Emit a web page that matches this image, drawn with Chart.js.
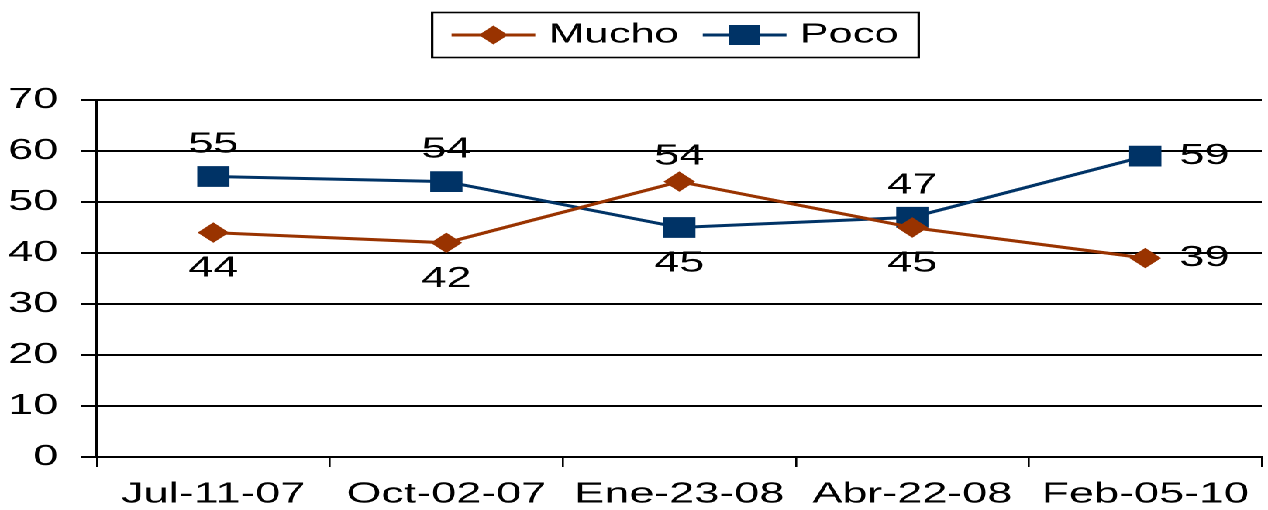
<!DOCTYPE html>
<html><head><meta charset="utf-8">
<script src="https://cdn.jsdelivr.net/npm/chart.js@4/dist/chart.umd.min.js"></script>
<style>
html,body{margin:0;padding:0;background:#fff;overflow:hidden;}
#wrap{position:absolute;left:0;top:0;width:818px;height:510px;transform:scaleX(1.55012);transform-origin:0 0;background:#fff;}
#c{display:block;}
</style></head><body>
<div id="wrap"><canvas id="c" width="818" height="510"></canvas></div>
<script>
const categories = ['Jul-11-07','Oct-02-07','Ene-23-08','Abr-22-08','Feb-05-10'];
const seriesNames = ['Mucho','Poco'];
const mucho = [44,42,54,45,39];
const poco = [55,54,45,47,59];
const yTicks = [0,10,20,30,40,50,60,70];

const FONT = '"Liberation Sans", Arial, sans-serif';
const LEG_BOX = 43;
const ZERO_PAD = () => ({ left: 0, top: 0, right: 0, bottom: 0 });

const valueLabels = {
  id:'valueLabels',
  afterDatasetsDraw(chart){
    const ctx = chart.ctx;
    ctx.save();
    ctx.font = '29px ' + FONT;
    ctx.fillStyle = '#000';
    ctx.textBaseline = 'middle';
    const n = categories.length;
    chart.data.datasets.forEach((ds, di) => {
      const meta = chart.getDatasetMeta(di);
      const other = chart.data.datasets[1-di].data;
      meta.data.forEach((pt, i) => {
        const v = ds.data[i];
        let x = pt.x, y = pt.y;
        if (i === n-1) { ctx.textAlign = 'left'; x += 22; }
        else if (v >= other[i]) { ctx.textAlign = 'center'; y -= (di === 1 ? 32 : 25); }
        else { ctx.textAlign = 'center'; y += 36; }
        ctx.fillText(String(v), x, y);
      });
    });
    ctx.restore();
  }
};

const legendDeco = {
  id:'legendDeco',
  beforeLayout(chart){
    const lg = chart.legend;
    if (lg && !lg.__p) {
      const f = lg.fit;
      lg.fit = function(){ f.apply(this, arguments); this.height += 41; };
      lg.__p = true;
    }
  },
  afterDraw(chart){
    const lg = chart.legend;
    if (!lg || !lg.legendHitBoxes || !lg.legendHitBoxes.length) return;
    const hb = lg.legendHitBoxes;
    const ctx = chart.ctx;
    const cy = hb[0].top + hb[0].height/2;
    const left = hb[0].left - 18;
    const last = hb[hb.length-1];
    const right = last.left + last.width + 13;
    ctx.save();
    ctx.strokeStyle = '#000'; ctx.lineWidth = 1.6;
    ctx.strokeRect(left, cy - 22.5, right - left, 45);
    hb.forEach((b, i) => {
      const ds = chart.data.datasets[i];
      const cx = b.left + LEG_BOX/2;
      ctx.strokeStyle = ds.borderColor; ctx.lineWidth = 3;
      ctx.beginPath(); ctx.moveTo(cx - 27, cy); ctx.lineTo(cx + 27, cy); ctx.stroke();
      ctx.fillStyle = ds.backgroundColor;
      ctx.beginPath();
      if (ds.pointStyle === 'rectRot') {
        ctx.moveTo(cx, cy - 9.5); ctx.lineTo(cx + 9.5, cy); ctx.lineTo(cx, cy + 9.5); ctx.lineTo(cx - 9.5, cy); ctx.closePath();
      } else {
        ctx.rect(cx - 10, cy - 10, 20, 20);
      }
      ctx.fill();
    });
    ctx.restore();
  }
};

new Chart(document.getElementById('c'), {
  type: 'line',
  data: {
    labels: categories,
    datasets: [
      { label: seriesNames[0], data: mucho, borderColor: '#993300', backgroundColor: '#993300',
        borderWidth: 3, pointStyle: 'rectRot', pointRadius: 9.5, pointBorderWidth: 1,
        pointBackgroundColor: '#993300', pointBorderColor: '#993300', tension: 0, fill: false },
      { label: seriesNames[1], data: poco, borderColor: '#003366', backgroundColor: '#003366',
        borderWidth: 3, pointStyle: 'rect', pointRadius: 14, pointBorderWidth: 1,
        pointBackgroundColor: '#003366', pointBorderColor: '#003366', tension: 0, fill: false }
    ]
  },
  options: {
    responsive: false,
    maintainAspectRatio: false,
    animation: false,
    devicePixelRatio: 2,
    layout: { autoPadding: false, padding: { left: 6, right: 4, top: 0, bottom: 0 } },
    plugins: {
      tooltip: { enabled: false },
      legend: {
        position: 'top',
        fullSize: false,
        labels: {
          usePointStyle: true,
          pointStyleWidth: LEG_BOX,
          padding: 21,
          color: '#000',
          font: { family: FONT, size: 28 },
          generateLabels: chart => chart.data.datasets.map((ds, i) => ({
            text: ds.label, fillStyle: 'rgba(0,0,0,0)', strokeStyle: 'rgba(0,0,0,0)',
            lineWidth: 0, pointStyle: 'line', hidden: false, datasetIndex: i, fontColor: '#000'
          }))
        }
      }
    },
    scales: {
      x: {
        offset: true,
        afterFit: s => { s.height = 53; s.paddingLeft = 0; s.paddingRight = 0; s.getPadding = ZERO_PAD; },
        grid: {
          offset: true,
          drawOnChartArea: true,
          color: c => (c.index === 0 || c.index === categories.length) ? '#000' : 'rgba(0,0,0,0)',
          lineWidth: 1.3,
          tickColor: '#000',
          tickWidth: 1.3,
          tickLength: 10
        },
        border: { display: true, color: '#000', width: 2 },
        ticks: { color: '#000', font: { family: FONT, size: 29, lineHeight: 1 }, padding: 13, maxRotation: 0, autoSkip: false }
      },
      y: {
        min: 0, max: 70,
        afterBuildTicks: s => { s.ticks = yTicks.map(v => ({ value: v })); },
        afterFit: s => { s.width = 56.5; s.paddingTop = 0; s.paddingBottom = 0; s.getPadding = ZERO_PAD; },
        grid: { color: '#000', lineWidth: 2, tickColor: '#000', tickLength: 10, tickWidth: 2 },
        border: { display: true, color: '#000', width: 2 },
        ticks: { color: '#000', font: { family: FONT, size: 29 }, padding: 15 }
      }
    }
  },
  plugins: [valueLabels, legendDeco]
});
</script>
</body></html>
